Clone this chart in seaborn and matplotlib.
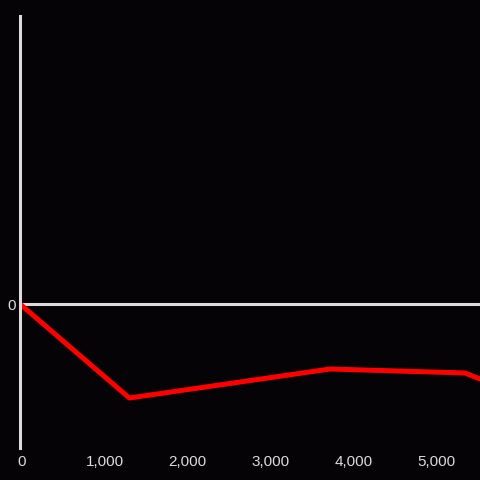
import matplotlib
matplotlib.use("Agg")
import matplotlib.pyplot as plt
import seaborn as sns
import pandas as pd
from matplotlib.ticker import FuncFormatter

# values (y has no scale except 0)
x_vals = [-20, 1300, 3720, 5350, 5530]
y_vals = [0, -94, -65, -69, -75]
x_ticks = [0, 1000, 2000, 3000, 4000, 5000]

df = pd.DataFrame({"x": x_vals, "y": y_vals})

bg = "#050305"
fg = "#dcdcdc"

sns.set_theme(style="dark")
plt.rcParams["font.family"] = ["Liberation Sans", "DejaVu Sans"]

fig = plt.figure(figsize=(4.8, 4.8), dpi=100, facecolor=bg)
ax = fig.add_axes([20 / 480, 32 / 480, 460 / 480, 432 / 480])
ax.set_facecolor(bg)

sns.lineplot(data=df, x="x", y="y", color="#ff0000", linewidth=3.6, ax=ax, sort=False)
ax.axhline(0, color=fg, linewidth=2.2, zorder=1)

ax.set_xlim(-20, 5530)
ax.set_ylim(-144, 288)
ax.set_xticks(x_ticks)
ax.xaxis.set_major_formatter(FuncFormatter(lambda v, p: f"{int(v):,}"))
ax.set_yticks([0])
ax.set_yticklabels(["0"])
ax.tick_params(axis="both", length=0, colors=fg, labelsize=11)
ax.tick_params(axis="x", pad=5)
ax.tick_params(axis="y", pad=3)
ax.set_xlabel("")
ax.set_ylabel("")
ax.grid(False)

for side in ["top", "right", "bottom"]:
    ax.spines[side].set_visible(False)
ax.spines["left"].set_color(fg)
ax.spines["left"].set_linewidth(2.2)

fig.savefig("out.png", dpi=100, facecolor=bg)
